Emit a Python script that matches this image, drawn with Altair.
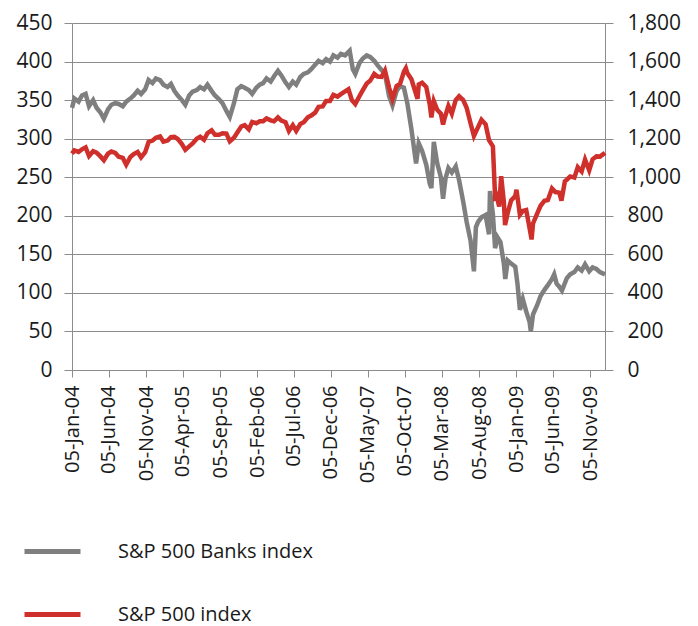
import altair as alt
import pandas as pd

# ---- data ----
BANK_DATES = [
    "2004-01-05", "2004-01-15", "2004-02-01", "2004-02-15", "2004-03-01", "2004-03-15", "2004-04-01", "2004-04-15",
    "2004-05-01", "2004-05-15", "2004-06-01", "2004-06-15", "2004-07-01", "2004-07-15", "2004-08-01", "2004-08-15",
    "2004-09-01", "2004-09-15", "2004-10-01", "2004-10-15", "2004-11-01", "2004-11-15", "2004-12-01", "2004-12-15",
    "2005-01-01", "2005-01-15", "2005-02-01", "2005-02-15", "2005-03-01", "2005-03-15", "2005-04-01", "2005-04-15",
    "2005-05-01", "2005-05-15", "2005-06-01", "2005-06-15", "2005-07-01", "2005-07-15", "2005-08-01", "2005-08-15",
    "2005-09-01", "2005-09-15", "2005-10-01", "2005-10-15", "2005-11-01", "2005-11-15", "2005-12-01", "2005-12-15",
    "2006-01-01", "2006-01-15", "2006-02-01", "2006-02-15", "2006-03-01", "2006-03-15", "2006-04-01", "2006-04-15",
    "2006-05-01", "2006-05-15", "2006-06-01", "2006-06-15", "2006-07-01", "2006-07-15", "2006-08-01", "2006-08-15",
    "2006-09-01", "2006-09-15", "2006-10-01", "2006-10-15", "2006-11-01", "2006-11-15", "2006-12-01", "2006-12-15",
    "2007-01-01", "2007-01-15", "2007-02-01", "2007-02-20", "2007-03-05", "2007-03-15", "2007-04-01", "2007-04-15",
    "2007-05-01", "2007-05-15", "2007-06-01", "2007-06-15", "2007-07-01", "2007-07-15", "2007-08-01", "2007-08-15",
    "2007-09-01", "2007-09-15", "2007-10-01", "2007-10-15", "2007-11-01", "2007-11-20", "2007-12-01", "2007-12-15",
    "2008-01-01", "2008-01-15", "2008-01-22", "2008-02-01", "2008-02-15", "2008-03-01", "2008-03-10", "2008-03-20",
    "2008-04-01", "2008-04-15", "2008-05-01", "2008-05-15", "2008-06-01", "2008-06-15", "2008-07-01", "2008-07-15",
    "2008-07-23", "2008-08-01", "2008-08-15", "2008-09-01", "2008-09-15", "2008-09-19", "2008-10-01", "2008-10-10",
    "2008-10-20", "2008-11-01", "2008-11-15", "2008-11-21", "2008-12-01", "2008-12-15",
    "2009-01-01", "2009-01-10", "2009-01-20", "2009-02-01", "2009-02-15", "2009-03-01", "2009-03-06", "2009-03-15",
    "2009-04-01", "2009-04-15", "2009-05-01", "2009-05-15", "2009-06-01", "2009-06-10", "2009-06-20", "2009-07-01",
    "2009-07-12", "2009-08-01", "2009-08-15", "2009-09-01", "2009-09-15", "2009-10-01", "2009-10-15", "2009-11-01",
    "2009-11-15", "2009-12-01", "2009-12-15", "2010-01-05",
]
BANK_VALUES = [
    340, 352, 348, 356, 358, 342, 350, 340,
    334, 326, 338, 344, 346, 345, 342, 348,
    352, 356, 362, 358, 364, 376, 372, 378,
    376, 370, 367, 371, 362, 356, 350, 344,
    356, 361, 363, 367, 364, 370, 362, 356,
    351, 346, 336, 328, 346, 364, 368, 366,
    363, 358, 366, 370, 372, 378, 374, 381,
    388, 382, 373, 367, 374, 370, 380, 384,
    386, 390, 396, 401, 398, 403, 400, 408,
    405, 410, 408, 414, 390, 384, 398, 404,
    408, 406, 401, 395, 389, 384, 355, 343,
    362, 368, 366, 346, 312, 268, 294, 284,
    266, 242, 236, 296, 268, 250, 222, 248,
    262, 256, 264, 246, 218, 192, 168, 128,
    185, 192, 198, 201, 176, 232, 202, 158,
    172, 166, 138, 118, 142, 138,
    134, 112, 78, 92, 76, 62, 50, 72,
    84, 96, 104, 110, 118, 124, 112, 108,
    103, 119, 124, 127, 133, 129, 137, 128,
    133, 131, 127, 124,
]

SP_DATES = [
    "2004-01-05", "2004-01-15", "2004-02-01", "2004-02-15", "2004-03-01", "2004-03-15", "2004-04-01", "2004-04-15",
    "2004-05-01", "2004-05-15", "2004-06-01", "2004-06-15", "2004-07-01", "2004-07-15", "2004-08-01", "2004-08-15",
    "2004-09-01", "2004-09-15", "2004-10-01", "2004-10-15", "2004-11-01", "2004-11-15", "2004-12-01", "2004-12-15",
    "2005-01-01", "2005-01-15", "2005-02-01", "2005-02-15", "2005-03-01", "2005-03-15", "2005-04-01", "2005-04-15",
    "2005-05-01", "2005-05-15", "2005-06-01", "2005-06-15", "2005-07-01", "2005-07-15", "2005-08-01", "2005-08-15",
    "2005-09-01", "2005-09-15", "2005-10-01", "2005-10-15", "2005-11-01", "2005-11-15", "2005-12-01", "2005-12-15",
    "2006-01-01", "2006-01-15", "2006-02-01", "2006-02-15", "2006-03-01", "2006-03-15", "2006-04-01", "2006-04-15",
    "2006-05-01", "2006-05-15", "2006-06-01", "2006-06-15", "2006-07-01", "2006-07-15", "2006-08-01", "2006-08-15",
    "2006-09-01", "2006-09-15", "2006-10-01", "2006-10-15", "2006-11-01", "2006-11-15", "2006-12-01", "2006-12-15",
    "2007-01-01", "2007-01-15", "2007-02-01", "2007-02-15", "2007-03-01", "2007-03-15", "2007-04-01", "2007-04-15",
    "2007-05-01", "2007-05-15", "2007-06-01", "2007-06-15", "2007-07-01", "2007-07-15", "2007-08-01", "2007-08-15",
    "2007-09-01", "2007-09-15", "2007-10-01", "2007-10-09", "2007-10-15", "2007-11-01", "2007-11-15", "2007-11-26",
    "2007-12-01", "2007-12-15",
    "2008-01-01", "2008-01-15", "2008-01-22", "2008-02-01", "2008-02-15", "2008-03-01", "2008-03-10", "2008-03-15",
    "2008-04-01", "2008-04-15", "2008-05-01", "2008-05-15", "2008-06-01", "2008-06-15", "2008-07-01", "2008-07-15",
    "2008-08-01", "2008-08-15", "2008-09-01", "2008-09-15", "2008-10-01", "2008-10-10", "2008-10-15", "2008-10-27",
    "2008-11-04", "2008-11-15", "2008-11-20", "2008-12-01", "2008-12-15",
    "2009-01-01", "2009-01-06", "2009-01-20", "2009-02-01", "2009-02-15", "2009-03-01", "2009-03-09", "2009-03-15",
    "2009-04-01", "2009-04-15", "2009-05-01", "2009-05-15", "2009-06-01", "2009-06-15", "2009-07-01", "2009-07-10",
    "2009-07-24", "2009-08-01", "2009-08-15", "2009-09-01", "2009-09-15", "2009-10-01", "2009-10-15", "2009-11-01",
    "2009-11-15", "2009-12-01", "2009-12-15", "2010-01-05",
]
SP_VALUES = [
    1122, 1139, 1131, 1145, 1155, 1110, 1135, 1128,
    1108, 1088, 1122, 1133, 1126, 1106, 1100, 1065,
    1105, 1120, 1131, 1103, 1130, 1183, 1190, 1205,
    1212, 1184, 1190, 1208, 1210, 1198, 1172, 1142,
    1160, 1175, 1200, 1210, 1194, 1228, 1243, 1220,
    1220, 1228, 1226, 1186, 1205, 1232, 1263, 1270,
    1248, 1287, 1280, 1290, 1290, 1305, 1295, 1290,
    1310, 1294, 1285, 1240, 1270, 1240, 1276, 1285,
    1311, 1320, 1335, 1365, 1367, 1396, 1396, 1427,
    1418, 1431, 1445, 1456, 1400, 1380, 1420, 1452,
    1486, 1500, 1536, 1522, 1520, 1553, 1465, 1406,
    1473, 1484, 1547, 1565, 1540, 1508, 1451, 1407,
    1481, 1490,
    1468, 1380, 1310, 1395, 1350, 1330, 1273, 1300,
    1370, 1330, 1400, 1420, 1400, 1360, 1280, 1214,
    1260, 1298, 1275, 1192, 1160, 899, 907, 848,
    1005, 873, 752, 816, 880,
    903, 935, 805, 825, 830, 735, 677, 760,
    811, 852, 878, 882, 942, 923, 920, 879,
    979, 987, 1004, 998, 1052, 1030, 1092, 1036,
    1093, 1108, 1107, 1126,
]

TICK_DATES = [
    "2004-01-05", "2004-06-05", "2004-11-05", "2005-04-05", "2005-09-05", "2006-02-05", "2006-07-05", "2006-12-05",
    "2007-05-05", "2007-10-05", "2008-03-05", "2008-08-05", "2009-01-05", "2009-06-05", "2009-11-05",
]
X_START = "2004-01-05"
X_END = "2010-01-05"
LEFT_TICKS = [0, 50, 100, 150, 200, 250, 300, 350, 400, 450]
RIGHT_TICKS = [0, 200, 400, 600, 800, 1000, 1200, 1400, 1600, 1800]
SERIES = ["S&P 500 Banks index", "S&P 500 index"]
COLORS = ["#7f7f7f", "#d0302b"]

FONT = "Open Sans"


def dt(s):
    y, m, d = (int(p) for p in s.split("-"))
    return alt.DateTime(year=y, month=m, date=d, utc=True)


df = pd.concat([
    pd.DataFrame({"date": BANK_DATES, "value": BANK_VALUES, "series": SERIES[0]}),
    pd.DataFrame({"date": SP_DATES, "value": SP_VALUES, "series": SERIES[1]}),
], ignore_index=True)

x_enc = alt.X(
    "date:T",
    scale=alt.Scale(type="utc", domain=[dt(X_START), dt(X_END)], nice=False),
    axis=alt.Axis(
        title=None,
        values=[dt(s) for s in TICK_DATES],
        format="%d-%b-%y",
        labelAngle=-90,
        labelPadding=8,
        tickSize=7,
        grid=False,
        labelFont=FONT,
        labelFontSize=20,
        labelColor="#1a1a1a",
        domainColor="#8c8c8c",
        tickColor="#8c8c8c",
        labelOverlap=False,
    ),
)

color_enc = alt.Color(
    "series:N",
    scale=alt.Scale(domain=SERIES, range=COLORS),
    legend=alt.Legend(
        title=None,
        orient="none",
        legendX=-50,
        legendY=498,
        direction="vertical",
        symbolType="stroke",
        symbolSize=3136,
        symbolStrokeWidth=5,
        labelFont=FONT,
        labelFontSize=20,
        labelColor="#1a1a1a",
        labelOffset=35,
        rowPadding=22,
        labelLimit=400,
    ),
)

base = alt.Chart(df).encode(x=x_enc, color=color_enc)

banks = base.transform_filter(alt.datum.series == SERIES[0]).mark_line(strokeWidth=4.5).encode(
    y=alt.Y(
        "value:Q",
        scale=alt.Scale(domain=[0, 450], nice=False, zero=True),
        axis=alt.Axis(
            title=None,
            orient="left",
            values=LEFT_TICKS,
            grid=True,
            gridColor="#8c8c8c",
            gridWidth=1.2,
            tickSize=8,
            labelPadding=12,
            labelFont=FONT,
            labelFontSize=21,
            labelColor="#1a1a1a",
            domainColor="#8c8c8c",
            tickColor="#8c8c8c",
        ),
    )
)

sp = base.transform_filter(alt.datum.series == SERIES[1]).mark_line(strokeWidth=4.5).encode(
    y=alt.Y(
        "value:Q",
        scale=alt.Scale(domain=[0, 1800], nice=False, zero=True),
        axis=alt.Axis(
            title=None,
            orient="right",
            values=RIGHT_TICKS,
            format=",d",
            grid=False,
            tickSize=8,
            labelPadding=14,
            labelFont=FONT,
            labelFontSize=21,
            labelColor="#1a1a1a",
            domainColor="#8c8c8c",
            tickColor="#8c8c8c",
        ),
    )
)

chart = (
    alt.layer(banks, sp)
    .resolve_scale(y="independent")
    .properties(
        width=533,
        height=347,
        autosize=alt.AutoSizeParams(type="none"),
        padding={"left": 72, "top": 23, "right": 93, "bottom": 256},
        background="white",
    )
    .configure_view(strokeWidth=0)
)

chart.save("out.html", embed_options={"renderer": "svg", "actions": False})
